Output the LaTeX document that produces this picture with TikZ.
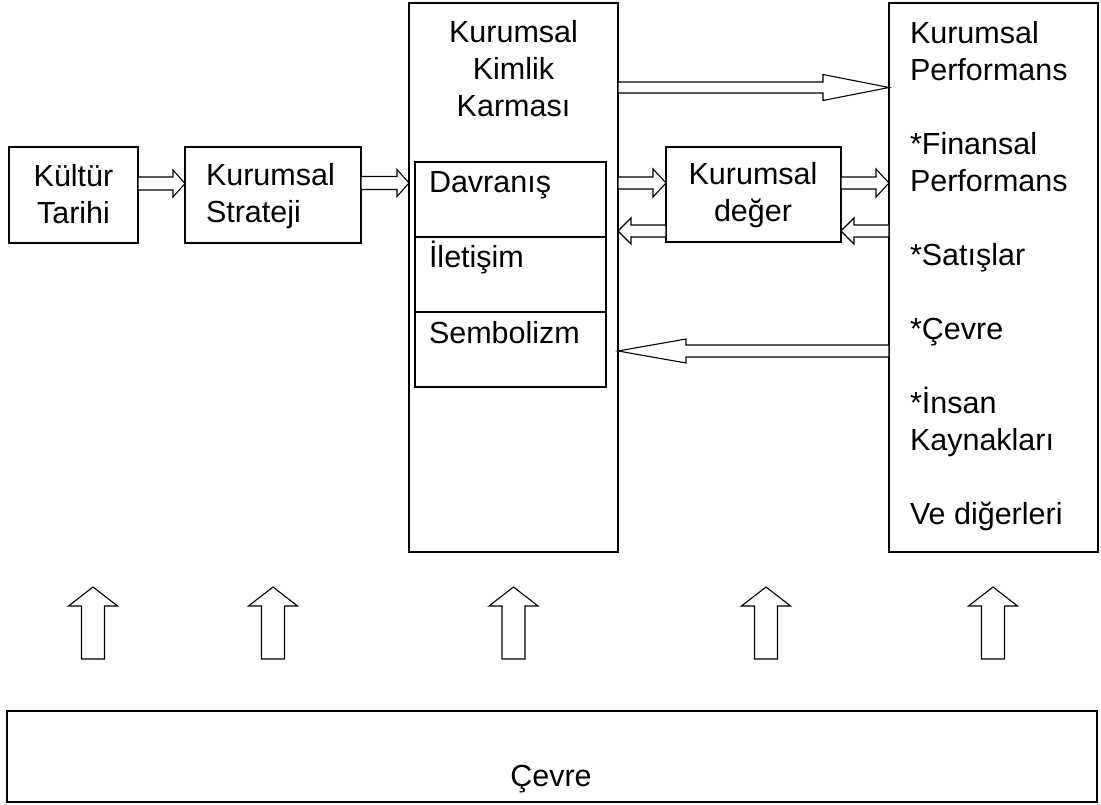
\documentclass[tikz,border=0pt]{standalone}
\usepackage{fontspec}
\setmainfont{Liberation Sans}
\usetikzlibrary{calc}

\tikzset{
  box/.style={draw=black, line width=1.3pt, inner sep=0pt, outer sep=0pt, anchor=north west},
  txt/.style={inner sep=0pt, outer sep=0pt},
  % hollow block arrow drawn as an outlined polygon from start to target
  shaft/.store in=\bashaft, headw/.store in=\baheadw, headl/.store in=\baheadl,
  shaft=6, headw=13, headl=12,
  blockarrow/.style={draw=black, fill=white, line width=1.1pt, line join=miter,
    to path={let \p1=(\tikztostart), \p2=(\tikztotarget),
      \n1={atan2(\y2-\y1,\x2-\x1)}, \n2={veclen(\x2-\x1,\y2-\y1)} in
      ([shift={(\p1)},rotate=\n1]0,\bashaft)
      -- ([shift={(\p1)},rotate=\n1]{\n2-\baheadl},\bashaft)
      -- ([shift={(\p1)},rotate=\n1]{\n2-\baheadl},\baheadw)
      -- ([shift={(\p1)},rotate=\n1]{\n2},0)
      -- ([shift={(\p1)},rotate=\n1]{\n2-\baheadl},-\baheadw)
      -- ([shift={(\p1)},rotate=\n1]{\n2-\baheadl},-\bashaft)
      -- ([shift={(\p1)},rotate=\n1]0,-\bashaft)
      -- cycle}}
}

\begin{document}
\begin{tikzpicture}[x=1pt, y=-1pt, font=\fontsize{30.5}{37}\selectfont]
  \fill[white] (0,0) rectangle (1101,805);
  \useasboundingbox (0,0) rectangle (1101,805);

  % boxes
  \node[box, minimum width=129pt, minimum height=96pt]  (kultur)   at (9,147)   {};
  \node[box, minimum width=176pt, minimum height=96pt]  (strateji) at (185,147) {};
  \node[box, minimum width=209pt, minimum height=549pt] (kimlik)   at (409,3)   {};
  \node[box, minimum width=191pt, minimum height=75pt]  (davranis) at (415,162) {};
  \node[box, minimum width=191pt, minimum height=75pt]  (iletisim) at (415,237) {};
  \node[box, minimum width=191pt, minimum height=75pt]  (sembol)   at (415,312) {};
  \node[box, minimum width=175pt, minimum height=95pt]  (deger)    at (666,147) {};
  \node[box, minimum width=209pt, minimum height=549pt] (perf)     at (889,3)   {};
  \node[box, minimum width=1090pt, minimum height=91pt] (cevre)    at (7,711)   {};

  % texts
  \node[txt, anchor=base] (tkultur) at (73.5,187)
    {\parbox[t]{125pt}{\centering Kültür\\Tarihi}};
  \node[txt, anchor=base west] (tstrateji) at (206,186)
    {\parbox[t]{150pt}{\raggedright Kurumsal\\Strateji}};
  \node[txt, anchor=base] (tkimlik) at (513.5,43)
    {\parbox[t]{200pt}{\centering Kurumsal\\Kimlik\\Karması}};
  \node[txt, anchor=base west] (tdavranis) at (429,193) {Davranış};
  \node[txt, anchor=base west] (tiletisim) at (429,268) {İletişim};
  \node[txt, anchor=base west] (tsembol)   at (429,343) {Sembolizm};
  \node[txt, anchor=base] (tdeger) at (753,185)
    {\parbox[t]{170pt}{\centering Kurumsal\\değer}};
  \node[txt, anchor=base west] (tperf) at (910,44)
    {\parbox[t]{185pt}{\raggedright Kurumsal\\Performans\\[37pt]*Finansal\\Performans\\[37pt]*Satışlar\\[37pt]*Çevre\\[37pt]*İnsan\\Kaynakları\\[37pt]Ve diğerleri}};
  \node[txt, anchor=base] (tcevre) at (551,786) {Çevre};

  % horizontal block arrows
  \draw[blockarrow, shaft=6.5, headw=13.5, headl=12]
    (kultur.east |- 0,183.5) to (strateji.west |- 0,183.5);
  \draw[blockarrow, shaft=6.5, headw=13.5, headl=12]
    (strateji.east |- 0,183) to (kimlik.west |- 0,183);
  \draw[blockarrow, shaft=6, headw=14, headl=13]
    (kimlik.east |- 0,183) to (deger.west |- 0,183);
  \draw[blockarrow, shaft=6, headw=14, headl=13]
    (deger.east |- 0,183) to (perf.west |- 0,183);
  \draw[blockarrow, shaft=6, headw=13, headl=13]
    (perf.west |- 0,231) to (deger.east |- 0,231);
  \draw[blockarrow, shaft=6, headw=13, headl=13]
    (deger.west |- 0,231) to (kimlik.east |- 0,231);
  \draw[blockarrow, shaft=5.5, headw=13, headl=66]
    (kimlik.east |- 0,87.5) to (perf.west |- 0,87.5);
  \draw[blockarrow, shaft=6, headw=12, headl=68]
    (perf.west |- 0,351) to (kimlik.east |- 0,351);

  % upward block arrows above the environment box
  \foreach \i/\xx in {1/93, 2/273, 3/513.5, 4/766, 5/993} {
    \coordinate (up\i a) at (\xx,659);
    \coordinate (up\i b) at (\xx,587);
    \draw[blockarrow, shaft=11.5, headw=24.5, headl=19] (up\i a) to (up\i b);
  }
\end{tikzpicture}
\end{document}
